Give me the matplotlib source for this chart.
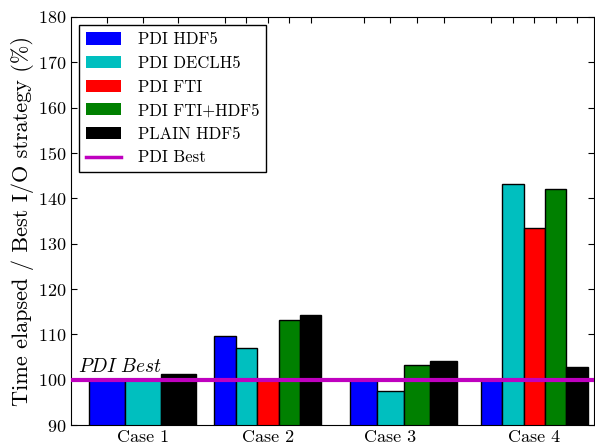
import matplotlib
matplotlib.use('Agg')
import matplotlib.pyplot as plt
from matplotlib.patches import Patch
from matplotlib.lines import Line2D

plt.rcParams['font.family'] = 'serif'
plt.rcParams['font.serif'] = ['cmr10']
plt.rcParams['mathtext.fontset'] = 'cm'
plt.rcParams['axes.formatter.use_mathtext'] = True

# data (None = no bar for that case)
cases = ['Case 1', 'Case 2', 'Case 3', 'Case 4']
series = ['PDI HDF5', 'PDI DECLH5', 'PDI FTI', 'PDI FTI+HDF5', 'PLAIN HDF5']
pdi_hdf5 = [100.0, 109.6, 100.0, 100.0]
pdi_declh5 = [100.0, 106.9, 97.6, 143.1]
pdi_fti = [None, 100.0, None, 133.5]
pdi_fti_hdf5 = [None, 113.2, 103.2, 142.0]
plain_hdf5 = [101.2, 114.3, 104.2, 102.9]
pdi_best = 100.0

values = [pdi_hdf5, pdi_declh5, pdi_fti, pdi_fti_hdf5, plain_hdf5]
colors = ['#0000ff', '#00bfbf', '#ff0000', '#008000', '#000000']

# left edge of each group (group width = 1)
case_x = [0.17, 1.34, 2.61, 3.83]

fig = plt.figure(figsize=(5.95, 4.46), dpi=100)
ax = fig.add_axes([0.1193, 0.047, 0.879, 0.915])

ticks = []
ticklabels = []
for c in range(len(cases)):
    present = [s for s in range(len(series)) if values[s][c] is not None]
    n = len(present)
    w = 1.0 / n
    for k, s in enumerate(present):
        x = case_x[c] + k * w
        ax.bar(x, values[s][c], width=w, align='edge', color=colors[s],
               edgecolor='black', linewidth=1.0, zorder=2)
        ticks.append(x + w / 2)
        ticklabels.append(cases[c] if k == (n - 1) // 2 else '')

ax.axhline(pdi_best, color='#bf00bf', linewidth=3, zorder=3)
ax.text(0.07, pdi_best + 0.9, r'$PDI\ Best$', fontsize=14, ha='left', va='bottom')

ax.set_xlim(0, 4.888)
ax.set_ylim(90, 180)
ax.set_yticks(range(90, 181, 10))
ax.set_xticks(ticks)
ax.set_xticklabels(ticklabels)
ax.tick_params(direction='in', top=True, right=True, length=4, labelsize=13, pad=3)
ax.set_ylabel('Time elapsed / Best I/O strategy (%)', fontsize=16, labelpad=3)

handles = [Patch(facecolor=col, edgecolor='none') for col in colors]
handles.append(Line2D([0], [0], color='#bf00bf', linewidth=2.5))
labels = series + ['PDI Best']
leg = ax.legend(handles, labels, loc='upper left', fontsize=12, fancybox=False,
                framealpha=1, edgecolor='black', handlelength=2.1, handleheight=0.75,
                borderaxespad=0.5, labelspacing=0.5, handletextpad=1.0)
leg.get_frame().set_linewidth(1.0)

fig.savefig('out.png', dpi=100)
